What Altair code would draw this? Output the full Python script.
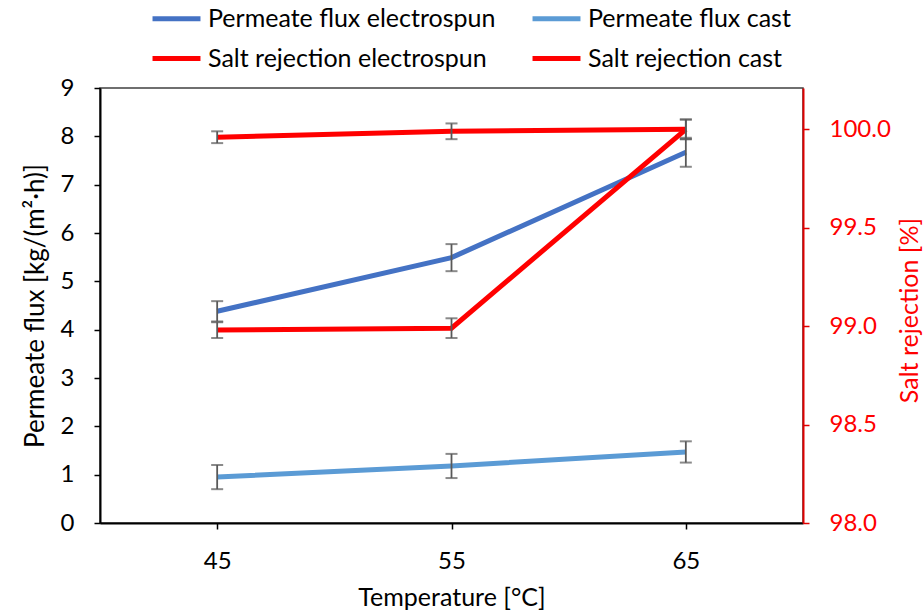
import altair as alt
import pandas as pd

# ---- data ----
temps = [45, 55, 65]
flux_es = [4.38, 5.49, 7.67]
flux_es_err = [0.21, 0.28, 0.30]
flux_cast = [0.95, 1.18, 1.47]
flux_cast_err = [0.25, 0.25, 0.22]
salt_es = [99.96, 99.99, 100.0]
salt_es_err = [0.03, 0.04, 0.05]
salt_cast = [98.98, 98.99, 100.0]
salt_cast_err = [0.04, 0.05, 0.05]

series = ["Permeate flux electrospun", "Permeate flux cast",
          "Salt rejection electrospun", "Salt rejection cast"]
colors = {"Permeate flux electrospun": "#4472C4", "Permeate flux cast": "#5B9BD5",
          "Salt rejection electrospun": "#FF0000", "Salt rejection cast": "#FF0000"}
# legend fills column by column: this order gives the reference's rows
legend_order = [series[0], series[2], series[1], series[3]]
left_ticks = list(range(10))
right_ticks = [98.0, 98.5, 99.0, 99.5, 100.0]


def frame(vals, errs, name):
    return pd.DataFrame({
        "T": temps, "v": vals, "s": name,
        "lo": [a - b for a, b in zip(vals, errs)],
        "hi": [a + b for a, b in zip(vals, errs)],
    })


df_flux = pd.concat([frame(flux_es, flux_es_err, series[0]),
                     frame(flux_cast, flux_cast_err, series[1])])
df_salt = pd.concat([frame(salt_es, salt_es_err, series[2]),
                     frame(salt_cast, salt_cast_err, series[3])])

FONT = "Lato"
LBL = 24
TTL = 25
x_enc = alt.X("T:Q", scale=alt.Scale(domain=[40, 70], nice=False, zero=False),
              axis=alt.Axis(values=temps, title="Temperature [°C]", grid=False,
                            domainColor="black", domainWidth=2, tickColor="black",
                            tickWidth=1.5, tickSize=6, labelPadding=20,
                            titlePadding=12, labelColor="black", titleColor="black"))

left_axis = alt.Axis(values=left_ticks, title="Permeate flux [kg/(m²·h)]", grid=False,
                     domainColor="black", domainWidth=2, tickColor="black", tickWidth=1.5,
                     tickSize=6, labelPadding=20, titlePadding=12, titleFontSize=26,
                     labelColor="black", titleColor="black")
right_axis = alt.Axis(values=right_ticks, format=".1f", orient="right",
                      title="Salt rejection [%]", grid=False,
                      domainColor="#E00000", domainWidth=2, tickColor="#E00000",
                      tickWidth=1.5, tickSize=6, labelPadding=20,
                      titleAngle=270, titleBaseline="middle", titleAlign="center",
                      titleX=106, titleY=222,
                      labelColor="#FF0000", titleColor="#FF0000")
left_scale = alt.Scale(domain=[0, 9], nice=False)
right_scale = alt.Scale(domain=[98.0, 100.21], nice=False, zero=False)

color_enc = alt.Color("s:N",
                      scale=alt.Scale(domain=legend_order,
                                      range=[colors[s] for s in legend_order]),
                      legend=alt.Legend(title=None, orient="none", legendX=50, legendY=-96,
                                        columns=2, symbolType="stroke", symbolSize=2300,
                                        symbolStrokeWidth=5, labelFontSize=TTL,
                                        labelFont=FONT, labelColor="black", rowPadding=-6,
                                        columnPadding=26, labelOffset=5, labelLimit=400))

ERR = "#595959"


def panel(df, scale, axis):
    def y(field):
        return alt.Y(f"{field}:Q", scale=scale, axis=axis)
    base = alt.Chart(df)
    line = base.mark_line(strokeWidth=5).encode(x=x_enc, y=y("v"), color=color_enc,
                                                 detail="s:N")
    rule = base.mark_rule(color=ERR, strokeWidth=1.8).encode(
        x=x_enc, y=y("lo"), y2="hi:Q")
    tlo = base.mark_tick(orient="horizontal", color=ERR, size=12, thickness=2).encode(
        x=x_enc, y=y("lo"))
    thi = base.mark_tick(orient="horizontal", color=ERR, size=12, thickness=2).encode(
        x=x_enc, y=y("hi"))
    return alt.layer(line, rule, tlo, thi)


left = panel(df_flux, left_scale, left_axis)
right = panel(df_salt, right_scale, right_axis)

chart = alt.layer(left, right).resolve_scale(y="independent").properties(
    width=703, height=435,
    autosize=alt.AutoSizeParams(type="none"),
    padding={"left": 100, "top": 88, "right": 121, "bottom": 87},
    background="white",
).configure_view(stroke="#404040", strokeWidth=1.5).configure_axis(
    labelFont=FONT, titleFont=FONT, labelFontSize=LBL, titleFontSize=TTL,
    titleFontWeight="normal",
)

chart.save("out.html", embed_options={"renderer": "svg", "actions": False})
